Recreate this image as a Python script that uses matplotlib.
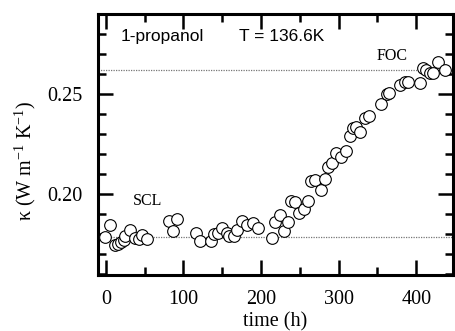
import matplotlib
matplotlib.use("Agg")
import matplotlib.pyplot as plt
from matplotlib.ticker import MultipleLocator

plt.rcParams['font.family'] = ['Liberation Serif', 'DejaVu Serif']
plt.rcParams['mathtext.fontset'] = 'custom'
plt.rcParams['mathtext.rm'] = 'Liberation Serif'
plt.rcParams['mathtext.it'] = 'Liberation Serif:italic'

time_h = [-1, 5.6, 12, 16, 19, 23, 25, 31, 38, 43, 46, 53,
          81, 87, 92,
          116, 121.5, 135, 139.5, 145, 150, 156, 159, 165, 169, 176, 181.5, 190, 196.5,
          214, 218, 224.5, 229.5, 235, 238.6, 243.8, 249, 255, 261,
          265, 269.5, 277, 282, 286.7, 292, 296.5, 302.6, 309.4,
          314.6, 319, 322, 328, 334, 339.5, 355, 362, 365,
          379, 385, 390, 405, 409, 413, 418, 422, 427.5, 437]
kappa = [0.1785, 0.1847, 0.1747, 0.175, 0.1758, 0.1772, 0.179, 0.182, 0.178, 0.1775, 0.1797, 0.1775,
         0.1863, 0.1813, 0.1875,
         0.1805, 0.1763, 0.1767, 0.180, 0.1805, 0.183, 0.1805, 0.1788, 0.179, 0.182, 0.1863, 0.1847, 0.1855, 0.183,
         0.1778, 0.1858, 0.1897, 0.1813, 0.1858, 0.1967, 0.196, 0.1905, 0.1925, 0.1963,
         0.2063, 0.2068, 0.2022, 0.2077, 0.2135, 0.2155, 0.2205, 0.2183, 0.2217,
         0.2292, 0.2328, 0.2337, 0.2308, 0.2378, 0.2392, 0.2452, 0.2500, 0.2505,
         0.2547, 0.2558, 0.2558, 0.2553, 0.2628, 0.2618, 0.2605, 0.2605, 0.2660, 0.2622]

kappa_foc = 0.2622
kappa_scl = 0.1787

fig = plt.figure(figsize=(4.55, 3.31), dpi=100)
ax = fig.add_axes([0.215, 0.169, 0.78, 0.789])

ax.axhline(kappa_foc, color='#777777', lw=0.9, ls=(0, (1, 1)), zorder=1)
ax.axhline(kappa_scl, color='#777777', lw=0.9, ls=(0, (1, 1)), zorder=1)

ax.plot(time_h, kappa, 'o', ms=8.4, mfc='white', mec='black', mew=0.8, ls='none', zorder=3)

ax.set_xlim(-10.3, 447)
ax.set_ylim(0.1595, 0.290)

ax.xaxis.set_major_locator(MultipleLocator(100))
ax.xaxis.set_minor_locator(MultipleLocator(50))
ax.yaxis.set_major_locator(MultipleLocator(0.05))
ax.yaxis.set_minor_locator(MultipleLocator(0.01))
ax.yaxis.set_major_formatter(matplotlib.ticker.FormatStrFormatter('%.2f'))

ax.tick_params(which='both', direction='in', top=True, right=True, width=1.8, labelsize=14.5)
ax.tick_params(which='major', length=11)
ax.tick_params(axis='x', which='major', pad=11)
ax.tick_params(axis='y', which='major', pad=11)
ax.tick_params(which='minor', length=6)
for s in ax.spines.values():
    s.set_linewidth(2.2)

ax.set_xlabel('time (h)', fontsize=14.5, labelpad=2)
ax.set_ylabel(r'κ (W m$^{-1}$ K$^{-1}$)', fontsize=14.5)
ax.yaxis.set_label_coords(-0.168, 0.437)

ax.text(18.5, 0.2788, '1-propanol', fontsize=12.5, family=['Liberation Sans'], va='center', ha='left')
ax.text(171, 0.2788, 'T = 136.6K', fontsize=12.5, family=['Liberation Sans'], va='center', ha='left')
ax.text(53.6, 0.1963, 'SCL', fontsize=11.5, va='center', ha='center')
ax.text(368.7, 0.2692, 'FOC', fontsize=11.5, va='center', ha='center')

fig.savefig('out.png', dpi=100)
